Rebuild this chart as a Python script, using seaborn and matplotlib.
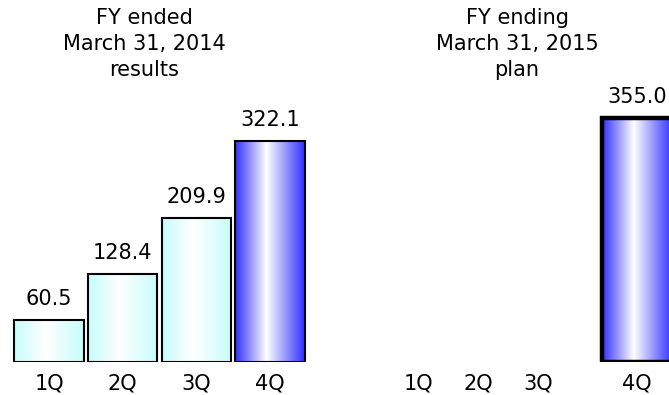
import numpy as np
import pandas as pd
import matplotlib
matplotlib.use("Agg")
import matplotlib.pyplot as plt
import seaborn as sns
from matplotlib.colors import LinearSegmentedColormap

# Quarterly figures
quarters = ["1Q", "2Q", "3Q", "4Q"]
results_2014 = [60.5, 128.4, 209.9, 322.1]
plan_2015 = [np.nan, np.nan, np.nan, 355.0]
title_2014 = "FY ended\nMarch 31, 2014\nresults"
title_2015 = "FY ending\nMarch 31, 2015\nplan"

sns.set_theme(style="white")
plt.rcParams["font.family"] = ["DejaVu Sans"]
plt.rcParams["text.color"] = "black"
plt.rcParams["xtick.color"] = "black"

FS = 15
W, H = 669, 395
fig = plt.figure(figsize=(W / 100, H / 100), dpi=100)

PX_PER_UNIT = 0.686
BASE_Y = 362
YMAX = 400
ax_h = YMAX * PX_PER_UNIT

# left panel: tick centres every ~73.7 px starting at x=49
left_step = 73.7
ax1 = fig.add_axes([(49 - 0.5 * left_step) / W, (H - BASE_Y) / H,
                    4 * left_step / W, ax_h / H])
# right panel: ticks every 60 px starting at x=418, extends past the edge
right_step = 60.0
ax2 = fig.add_axes([(418 - 0.5 * right_step) / W, (H - BASE_Y) / H,
                    5 * right_step / W, ax_h / H])

light_cmap = LinearSegmentedColormap.from_list(
    "light", [(0, "#c6fcfc"), (0.45, "#ffffff"), (1, "#c6fcfc")])
blue_cmap = LinearSegmentedColormap.from_list(
    "blue", [(0, "#2f2fff"), (0.45, "#ffffff"), (1, "#2f2fff")])
grad = np.linspace(0, 1, 256).reshape(1, -1)


def fill_gradient(ax, patch, cmap):
    x0, y0 = patch.get_x(), patch.get_y()
    w, h = patch.get_width(), patch.get_height()
    if not np.isfinite(h) or h == 0:
        return
    im = ax.imshow(grad, cmap=cmap, aspect="auto", extent=(x0, x0 + w, y0, y0 + h),
                   zorder=1, interpolation="bicubic")
    im.set_clip_path(patch)
    patch.set_facecolor("none")
    patch.set_zorder(2)


def label_bar(ax, patch, value):
    ax.annotate(f"{value:.1f}", (patch.get_x() + patch.get_width() / 2, value),
                xytext=(0, 8), textcoords="offset points", ha="center", va="bottom",
                fontsize=FS, annotation_clip=False)


df1 = pd.DataFrame({"quarter": quarters, "value": results_2014})
sns.barplot(data=df1, x="quarter", y="value", ax=ax1, width=0.94,
            edgecolor="black", linewidth=1.5, color="white", saturation=1)
for i, (p, v) in enumerate(zip(ax1.patches, results_2014)):
    fill_gradient(ax1, p, blue_cmap if i == 3 else light_cmap)
    label_bar(ax1, p, v)
ax1.set_xlim(-0.5, 3.5)
ax1.set_ylim(0, YMAX)

df2 = pd.DataFrame({"quarter": quarters, "value": plan_2015})
sns.barplot(data=df2, x="quarter", y="value", ax=ax2, width=0.94,
            edgecolor="black", linewidth=3.2, color="white", saturation=1)
plan_centre, plan_width = 3.65, 1.18
plan_values = [v for v in plan_2015 if not np.isnan(v)]
bars = [p for p in ax2.patches if np.isfinite(p.get_height()) and p.get_height() > 0]
for p, v in zip(bars, plan_values):
    p.set_x(plan_centre - plan_width / 2)
    p.set_width(plan_width)
    fill_gradient(ax2, p, blue_cmap)
    label_bar(ax2, p, v)
ax2.set_xticks([0, 1, 2, plan_centre])
ax2.set_xticklabels(quarters)
ax2.set_xlim(-0.5, 4.5)
ax2.set_ylim(0, YMAX)

for ax in (ax1, ax2):
    ax.set_xlabel("")
    ax.set_ylabel("")
    ax.set_yticks([])
    ax.tick_params(axis="x", length=0, labelsize=FS, pad=8.5)
    for s in ax.spines.values():
        s.set_visible(False)
    ax.patch.set_alpha(0)

fig.text(144 / W, 1 - 44 / H, title_2014, ha="center", va="center",
         fontsize=FS, linespacing=1.36)
fig.text(517 / W, 1 - 44 / H, title_2015, ha="center", va="center",
         fontsize=FS, linespacing=1.36)

fig.savefig("out.png", dpi=100)
